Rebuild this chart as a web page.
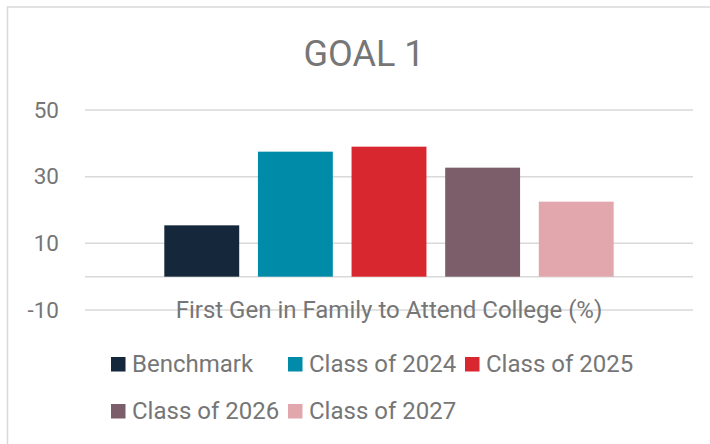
<!DOCTYPE html>
<html>
<head>
<meta charset="utf-8">
<script src="https://cdn.jsdelivr.net/npm/d3@7"></script>
<style>
  body { margin: 0; background: #fff; }
  svg { display: block; font-family: Roboto, sans-serif; }
</style>
</head>
<body>
<div id="chart"></div>
<script>
// chart data
const categories = ['First Gen in Family to Attend College (%)']
const seriesNames = ['Benchmark', 'Class of 2024', 'Class of 2025', 'Class of 2026', 'Class of 2027']
const seriesValues = [15.4, 37.5, 39.0, 32.7, 22.5]
const seriesColors = ['#14273b', '#008ba8', '#d9272f', '#7c5e6b', '#e2a7ad']
const tickValues = [-10, 10, 30, 50]
const gridValues = [-10, 0, 10, 30, 50]

const width = 710
const height = 444
const margin = { top: 110, right: 17, bottom: 134, left: 85 }
const textColor = '#767676'
const gridColor = '#d9d9d9'

const svg = d3
  .select('#chart')
  .append('svg')
  .attr('width', width)
  .attr('height', height)

// chart frame
svg
  .append('rect')
  .attr('x', 7.5)
  .attr('y', 7)
  .attr('width', 720)
  .attr('height', 460)
  .attr('fill', '#fff')
  .attr('stroke', gridColor)
  .attr('stroke-width', 1.5)

svg
  .append('text')
  .attr('x', 364)
  .attr('y', 66)
  .attr('text-anchor', 'middle')
  .attr('fill', textColor)
  .style('font-size', '36px')
  .text('GOAL 1')

const y = d3
  .scaleLinear()
  .domain([-10, 50])
  .range([height - margin.bottom, margin.top])

const x0 = d3
  .scaleBand()
  .domain(categories)
  .range([margin.left, width - margin.right])
  .padding(0.13)

const x1 = d3
  .scaleBand()
  .domain(seriesNames)
  .range([0, x0.bandwidth()])
  .paddingInner(0.2)
  .paddingOuter(0.1)

// gridlines
svg
  .append('g')
  .selectAll('line')
  .data(gridValues)
  .enter()
  .append('line')
  .attr('x1', margin.left)
  .attr('x2', width - margin.right)
  .attr('y1', (d) => y(d))
  .attr('y2', (d) => y(d))
  .attr('stroke', gridColor)
  .attr('stroke-width', 1.5)

// y axis labels
const yAxis = svg
  .append('g')
  .attr('transform', `translate(${margin.left - 26},0)`)
  .call(
    d3
      .axisLeft(y)
      .tickValues(tickValues)
      .tickFormat((d) => String(d))
      .tickSize(0)
      .tickPadding(0)
  )
yAxis.select('.domain').remove()
yAxis
  .selectAll('text')
  .attr('fill', textColor)
  .style('font-size', '22.5px')
  .style('font-family', 'Roboto, sans-serif')

// bars
const group = svg
  .append('g')
  .selectAll('g')
  .data(categories)
  .enter()
  .append('g')
  .attr('transform', (d) => `translate(${x0(d)},0)`)

group
  .selectAll('rect')
  .data(seriesNames.map((name, i) => ({ name: name, value: seriesValues[i], color: seriesColors[i] })))
  .enter()
  .append('rect')
  .attr('x', (d) => x1(d.name))
  .attr('width', x1.bandwidth())
  .attr('y', (d) => y(Math.max(0, d.value)))
  .attr('height', (d) => Math.abs(y(d.value) - y(0)))
  .attr('fill', (d) => d.color)

// category label
svg
  .append('g')
  .selectAll('text')
  .data(categories)
  .enter()
  .append('text')
  .attr('x', (d) => x0(d) + x0.bandwidth() / 2)
  .attr('y', 318)
  .attr('text-anchor', 'middle')
  .attr('fill', textColor)
  .style('font-size', '24px')
  .text((d) => d)

// legend
const legendCols = 3
const colWidth = 177
const rowHeight = 47
const legend = svg.append('g').attr('transform', 'translate(111,357)')

const item = legend
  .selectAll('g')
  .data(seriesNames)
  .enter()
  .append('g')
  .attr('transform', (d, i) => `translate(${(i % legendCols) * colWidth},${Math.floor(i / legendCols) * rowHeight})`)

item
  .append('rect')
  .attr('width', 14.5)
  .attr('height', 14.5)
  .attr('fill', (d, i) => seriesColors[i])

item
  .append('text')
  .attr('x', 21)
  .attr('y', 15)
  .attr('fill', textColor)
  .style('font-size', '24px')
  .text((d) => d)
</script>
</body>
</html>
